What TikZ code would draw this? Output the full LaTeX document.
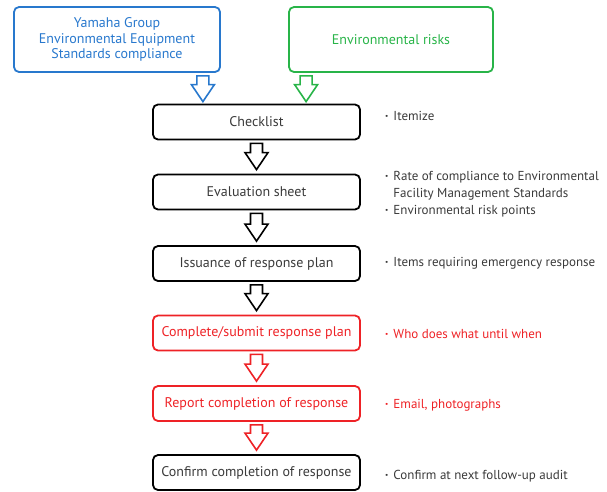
\documentclass[tikz,border=0pt]{standalone}
\usepackage{fontspec}
\setmainfont{PT Sans}
\usetikzlibrary{calc}
\definecolor{ymblue}{RGB}{40,120,205}
\definecolor{ymgreen}{RGB}{40,180,72}
\definecolor{ymred}{RGB}{238,34,38}
\definecolor{ymgray}{RGB}{58,58,58}
\newcommand{\dotitem}{\textbf{·}\hspace{5pt}}
\tikzset{
  stepbox/.style={draw=black, line width=1.8pt, rounded corners=5pt,
    minimum width=207pt, minimum height=35pt, inner sep=0pt,
    text=ymgray, font=\fontsize{14}{15.5}\selectfont, align=center},
  redbox/.style={stepbox, draw=ymred, text=ymred},
  inbox/.style={stepbox, minimum height=65pt},
  note/.style={anchor=west, inner sep=0pt, text=ymgray,
    font=\fontsize{13}{17}\selectfont, align=left},
  rednote/.style={note, text=ymred},
  arrowbody/.style={fill=white, line width=1.6pt, line join=miter},
}
% hollow block arrow from #2 down to the y of #3
\newcommand{\blockarrow}[3][black]{%
  \draw[arrowbody, draw=#1] let \p1=(#2), \p2=(#3) in
    (\x1-6pt,\y1) -- (\x1+6pt,\y1) -- (\x1+6pt,\y2+17pt)
    -- (\x1+11.5pt,\y2+17pt) -- (\x1,\y2) -- (\x1-11.5pt,\y2+17pt)
    -- (\x1-6pt,\y2+17pt) -- cycle;}
\begin{document}
\begin{tikzpicture}[x=1pt, y=1pt]
  \useasboundingbox (0,0) rectangle (607,-491);
  \node[inbox, draw=ymblue, text=ymblue, minimum width=206pt] (yamaha) at (117,-39.5)
    {Yamaha Group\\Environmental Equipment\\Standards compliance};
  \node[inbox, draw=ymgreen, text=ymgreen, minimum width=204pt] (risks) at (391,-39.5)
    {Environmental risks};

  \node[stepbox] (check) at (256.5,-122) {Checklist};
  \node[stepbox] (eval) at (256.5,-192) {Evaluation sheet};
  \node[stepbox] (issue) at (256.5,-263.5) {Issuance of response plan};
  \node[redbox] (submit) at (256.5,-333) {Complete/submit response plan};
  \node[redbox] (report) at (256.5,-403.5) {Report completion of response};
  \node[stepbox] (confirm) at (256.5,-472.5) {Confirm completion of response};

  \node[note] (n1) at (385,-116) {\dotitem Itemize};
  \node[note, anchor=north west] (n2) at (385,-171)
    {\dotitem Rate of compliance to Environmental\\\hphantom{\dotitem}Facility Management Standards\\\dotitem Environmental risk points};
  \node[note] (n3) at (385,-263) {\dotitem Items requiring emergency response};
  \node[rednote] (n4) at (385,-334) {\dotitem Who does what until when};
  \node[rednote] (n5) at (385,-405) {\dotitem Email, photographs};
  \node[note] (n6) at (385,-476) {\dotitem Confirm at next follow-up audit};

  \blockarrow[ymblue]{$(yamaha.south east)+(-18pt,-3pt)$}{$(check.north)+(0,2pt)$}
  \blockarrow[ymgreen]{$(risks.south west)+(18pt,-3pt)$}{$(check.north)+(0,2pt)$}
  \blockarrow{$(check.south)+(0,-3pt)$}{$(eval.north)+(0,4pt)$}
  \blockarrow{$(eval.south)+(0,-3pt)$}{$(issue.north)+(0,4pt)$}
  \blockarrow{$(issue.south)+(0,-3pt)$}{$(submit.north)+(0,4pt)$}
  \blockarrow[ymred]{$(submit.south)+(0,-3pt)$}{$(report.north)+(0,4pt)$}
  \blockarrow[ymred]{$(report.south)+(0,-3pt)$}{$(confirm.north)+(0,4pt)$}
\end{tikzpicture}
\end{document}
